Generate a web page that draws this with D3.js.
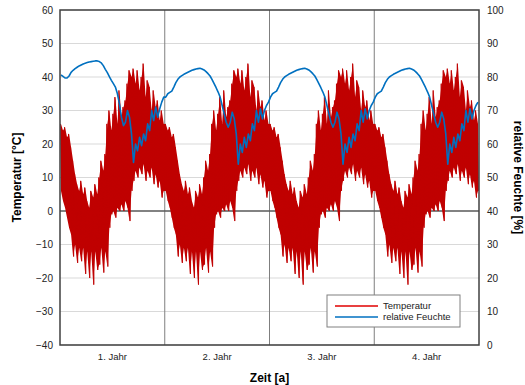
<!DOCTYPE html>
<html>
<head>
<meta charset="utf-8">
<script src="https://cdn.jsdelivr.net/npm/d3@7"></script>
<style>
  body { margin: 0; background: #fff; }
  svg { display: block; font-family: 'Liberation Sans', Arial, sans-serif; }
</style>
</head>
<body>
<svg id="chart" width="525" height="385"></svg>
<script>
const jahre = ['1. Jahr', '2. Jahr', '3. Jahr', '4. Jahr'];
const tempTicks = [-40, -30, -20, -10, 0, 10, 20, 30, 40, 50, 60];
const feuchteTicks = [0, 10, 20, 30, 40, 50, 60, 70, 80, 90, 100];

// Klimajahr (wöchentliche Max/Min), wiederholt sich jedes Jahr
const tempMaxKlimajahr = [26, 24, 25, 22, 23, 19, 15, 11, 8, 6, 9, 5, 7, 3, 1, 6, 4, 8, 5, 10,
  15, 12, 17, 26, 30, 24, 29, 34, 26, 36, 28, 31, 33, 38, 42, 40, 42.5, 38, 42, 36,
  40, 44, 34, 39, 37, 30, 36, 31, 33, 27, 30, 26];
const tempMinKlimajahr = [6, 3, 1, -2, -5, -7, -13.6, -10, -15.5, -11, -15, -11, -18.8, -12, -20, -12, -22, -12, -17.6, -16,
  -11, -18.4, -12, -16.6, -5, -1, 0, -2, 1, 0, 2, 0, 3, 1, -3, 6, 9, 12, 10, 13,
  11, 14, 9, 12, 10, 13, 8, 11, 7, 9, 4, 6];

// relative Feuchte (wöchentlich)
const feuchteJahr1 = [80.6, 80.2, 79.7, 79.7, 80.3, 81.4, 82, 82.5, 82.9, 83.3, 83.6, 83.9, 84.1, 84.3, 84.5, 84.6, 84.7, 84.8, 84.8, 84.6,
  84.2, 83.4, 82.3, 81.3, 80.1, 79, 78, 77, 75, 72, 68, 65.5, 66.5, 70, 68, 63, 54.5, 60, 58, 62,
  59.5, 63, 61, 66, 64, 70, 67, 71, 68, 70.5, 72.5, 74];
const feuchteFolgejahre = [74, 75, 75.4, 75.8, 77, 78.3, 79.3, 80, 80.4, 80.8, 81.1, 81.4, 81.7, 82, 82.2, 82.4, 82.5, 82.6, 82.4, 82.1,
  81.6, 81, 80.3, 79.2, 78, 76.8, 75.5, 74, 71.5, 69, 66.5, 65, 66.5, 69.5, 67.5, 63, 54, 60, 57.5, 62,
  59, 63, 61, 66, 64, 70, 66.5, 70.5, 67.5, 70, 71.5, 72.5];

const wochen = tempMaxKlimajahr.length;

const tempWochen = [];
const tempPunkte = [];
const feuchtePunkte = [];
jahre.forEach((j, jahr) => {
  tempMaxKlimajahr.forEach((v, w) => {
    const t = jahr * wochen + w;
    tempWochen.push({ t: t + 0.5, max: v, min: tempMinKlimajahr[w] });
    tempPunkte.push({ t: t + 0.25, v: v });
    tempPunkte.push({ t: t + 0.75, v: tempMinKlimajahr[w] });
  });
  const werte = jahr === 0 ? feuchteJahr1 : feuchteFolgejahre;
  werte.forEach((v, w) => feuchtePunkte.push({ t: jahr * wochen + w + 0.5, v: v }));
});

const svg = d3.select('#chart');
const margin = { top: 10, right: 46, bottom: 40, left: 60 };
const width = 525 - margin.left - margin.right,
  height = 385 - margin.top - margin.bottom;
const g = svg.append('g').attr('transform', `translate(${margin.left},${margin.top})`);

const x = d3.scaleLinear().domain([0, jahre.length * wochen]).range([0, width]);
const yT = d3.scaleLinear().domain([-40, 60]).range([height, 0]);
const yF = d3.scaleLinear().domain([0, 100]).range([height, 0]);

// Gitterlinien
g.append('g')
  .selectAll('line')
  .data(tempTicks.filter(d => d !== 0))
  .join('line')
  .attr('x1', 0).attr('x2', width)
  .attr('y1', d => yT(d)).attr('y2', d => yT(d))
  .attr('stroke', '#d9d9d9').attr('stroke-width', 1);

g.append('g')
  .selectAll('line')
  .data(d3.range(1, jahre.length))
  .join('line')
  .attr('x1', d => x(d * wochen)).attr('x2', d => x(d * wochen))
  .attr('y1', 0).attr('y2', height)
  .attr('stroke', '#7f7f7f').attr('stroke-width', 1);

g.append('line')
  .attr('x1', 0).attr('x2', width)
  .attr('y1', yT(0)).attr('y2', yT(0))
  .attr('stroke', '#595959').attr('stroke-width', 1.3);

g.append('clipPath').attr('id', 'clip')
  .append('rect').attr('width', width).attr('height', height);

const plot = g.append('g').attr('clip-path', 'url(#clip)');

// Temperatur: Band zwischen Min und Max, darüber die Zickzacklinie
plot.append('path')
  .datum(tempWochen)
  .attr('fill', '#c00000')
  .attr('d', d3.area().x(d => x(d.t)).y0(d => yT(d.min)).y1(d => yT(d.max)));

plot.append('path')
  .datum(tempPunkte)
  .attr('fill', 'none')
  .attr('stroke', '#c00000')
  .attr('stroke-width', 0.9)
  .attr('d', d3.line().x(d => x(d.t)).y(d => yT(d.v)));

plot.append('path')
  .datum(feuchtePunkte)
  .attr('fill', 'none')
  .attr('stroke', '#0070c0')
  .attr('stroke-width', 1.6)
  .attr('stroke-linejoin', 'round')
  .attr('d', d3.line().x(d => x(d.t)).y(d => yF(d.v)));

// Rahmen
g.append('rect')
  .attr('width', width).attr('height', height)
  .attr('fill', 'none').attr('stroke', '#404040').attr('stroke-width', 1.5);

// Achsen
const axL = g.append('g')
  .call(d3.axisLeft(yT).tickValues(tempTicks).tickSize(0).tickPadding(7));
const axR = g.append('g').attr('transform', `translate(${width},0)`)
  .call(d3.axisRight(yF).tickValues(feuchteTicks).tickSize(0).tickPadding(8));
[axL, axR].forEach(a => {
  a.select('.domain').remove();
  a.selectAll('text').attr('font-size', 10).attr('fill', '#222')
    .style('font-family', "'Liberation Sans', Arial, sans-serif");
});

g.append('g')
  .selectAll('text')
  .data(jahre)
  .join('text')
  .attr('x', (d, i) => x((i + 0.5) * wochen))
  .attr('y', height + 15)
  .attr('text-anchor', 'middle')
  .attr('font-size', 9.5)
  .attr('fill', '#222')
  .text(d => d);

svg.append('text')
  .attr('x', margin.left + width / 2)
  .attr('y', 382)
  .attr('text-anchor', 'middle')
  .attr('font-size', 12).attr('font-weight', 'bold')
  .text('Zeit [a]');

svg.append('text')
  .attr('transform', `translate(21,${margin.top + height / 2}) rotate(-90)`)
  .attr('text-anchor', 'middle')
  .attr('font-size', 12).attr('font-weight', 'bold')
  .text('Temperatur [°C]');

svg.append('text')
  .attr('transform', `translate(514,${margin.top + height / 2}) rotate(90)`)
  .attr('text-anchor', 'middle')
  .attr('font-size', 12).attr('font-weight', 'bold')
  .text('relative Feuchte [%]');

// Legende
const legende = svg.append('g').attr('transform', 'translate(327,295)');
legende.append('rect')
  .attr('width', 133).attr('height', 32)
  .attr('fill', '#fff').attr('stroke', '#808080').attr('stroke-width', 1);
const eintraege = [
  { name: 'Temperatur', farbe: '#e00000' },
  { name: 'relative Feuchte', farbe: '#0070c0' }
];
eintraege.forEach((e, i) => {
  const yy = 11 + i * 11;
  legende.append('line')
    .attr('x1', 8).attr('x2', 51).attr('y1', yy).attr('y2', yy)
    .attr('stroke', e.farbe).attr('stroke-width', 1.6);
  legende.append('text')
    .attr('x', 56).attr('y', yy).attr('dy', '0.35em')
    .attr('font-size', 9.5).attr('fill', '#222')
    .text(e.name);
});
</script>
</body>
</html>
